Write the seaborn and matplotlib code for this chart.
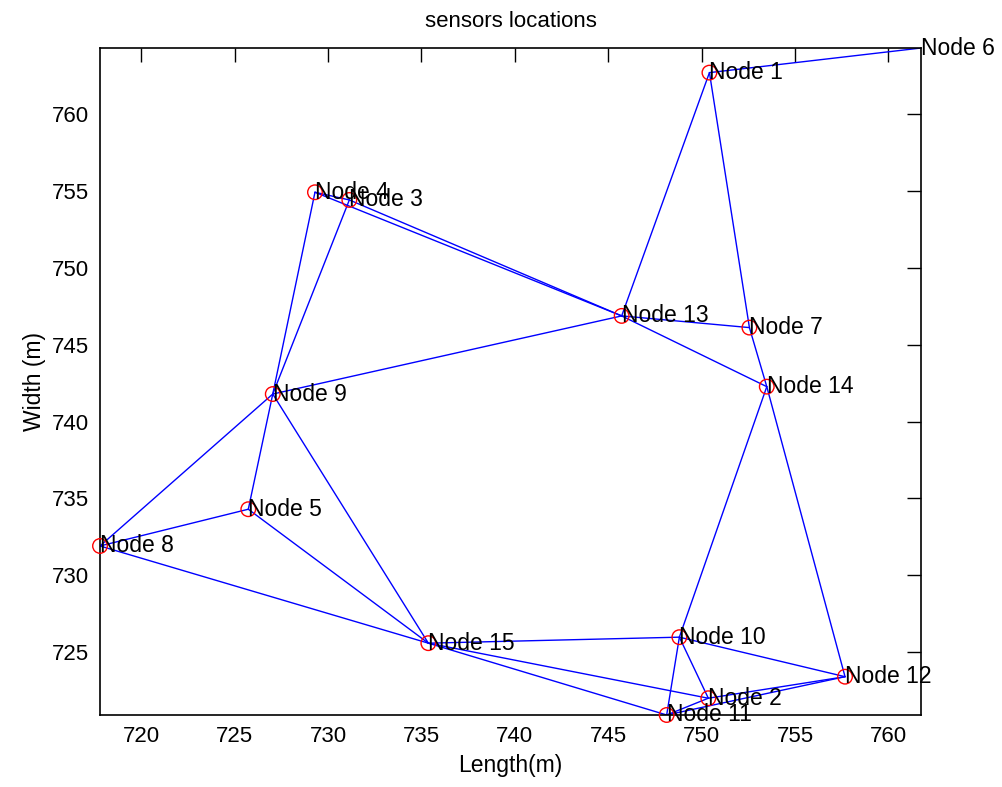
import matplotlib
matplotlib.use("Agg")
import matplotlib.pyplot as plt
import seaborn as sns
import pandas as pd

# sensor node positions (m)
node_ids = list(range(1, 16))
node_x = [750.42, 750.36, 731.14, 729.30, 725.73, 761.75, 752.56, 717.79,
          727.04, 748.81, 748.13, 757.68, 745.72, 753.49, 735.37]
node_y = [762.69, 722.01, 754.41, 754.91, 734.30, 764.29, 746.11, 731.91,
          741.79, 725.98, 720.92, 723.41, 746.87, 742.27, 725.59]
# node 6 is the sink, drawn without a circle
is_sensor = [True] * 15
is_sensor[5] = False

# links between nodes
edge_from = [6, 1, 1, 7, 14, 13, 13, 13, 13, 13, 4, 4, 3, 9, 9, 9, 5, 5, 8,
             15, 15, 15, 10, 10, 10, 10, 11, 11, 2]
edge_to = [1, 13, 7, 14, 12, 7, 14, 9, 4, 3, 3, 9, 9, 8, 5, 15, 8, 15, 15,
           10, 2, 11, 14, 12, 2, 11, 2, 12, 12]

nodes = pd.DataFrame({"id": node_ids, "x": node_x, "y": node_y, "sensor": is_sensor})
pos = nodes.set_index("id")

rows = []
for k, (a, b) in enumerate(zip(edge_from, edge_to)):
    rows.append({"edge": k, "x": pos.loc[a, "x"], "y": pos.loc[a, "y"]})
    rows.append({"edge": k, "x": pos.loc[b, "x"], "y": pos.loc[b, "y"]})
links = pd.DataFrame(rows)

sns.set_style("white")
plt.rcParams["font.family"] = ["Liberation Sans", "DejaVu Sans"]
plt.rcParams["text.color"] = "black"
plt.rcParams["axes.labelcolor"] = "black"
plt.rcParams["xtick.color"] = "black"
plt.rcParams["ytick.color"] = "black"

fig = plt.figure(figsize=(10.03, 7.87), dpi=100)
ax = fig.add_axes([0.0997, 0.0915, 0.8186, 0.8475])

sns.lineplot(data=links, x="x", y="y", units="edge", estimator=None, sort=False,
             color="blue", linewidth=1.0, ax=ax)
sns.scatterplot(data=nodes[nodes["sensor"]], x="x", y="y", marker="o", s=110,
                facecolors="none", edgecolor="red", linewidth=1.0, ax=ax,
                zorder=3, clip_on=False)

for i, x, y in zip(node_ids, node_x, node_y):
    ax.text(x, y, "Node %d" % i, ha="left", va="center", fontsize=16.5,
            color="black", clip_on=False)

ax.set_xlim(min(node_x), max(node_x))
ax.set_ylim(min(node_y), max(node_y))
ax.set_xticks(range(720, 761, 5))
ax.set_yticks(range(725, 761, 5))
ax.tick_params(axis="both", which="both", direction="in", length=10, width=1,
               top=True, right=True, labelsize=16, pad=8, colors="black")
for s in ax.spines.values():
    s.set_visible(True)
    s.set_color("black")
    s.set_linewidth(1.2)

ax.set_title("sensors locations", fontsize=16, pad=15)
ax.set_xlabel("Length(m)", fontsize=16.5, labelpad=5)
ax.set_ylabel("Width (m)", fontsize=16.5, labelpad=4)

fig.savefig("out.png", dpi=100, facecolor="white")
